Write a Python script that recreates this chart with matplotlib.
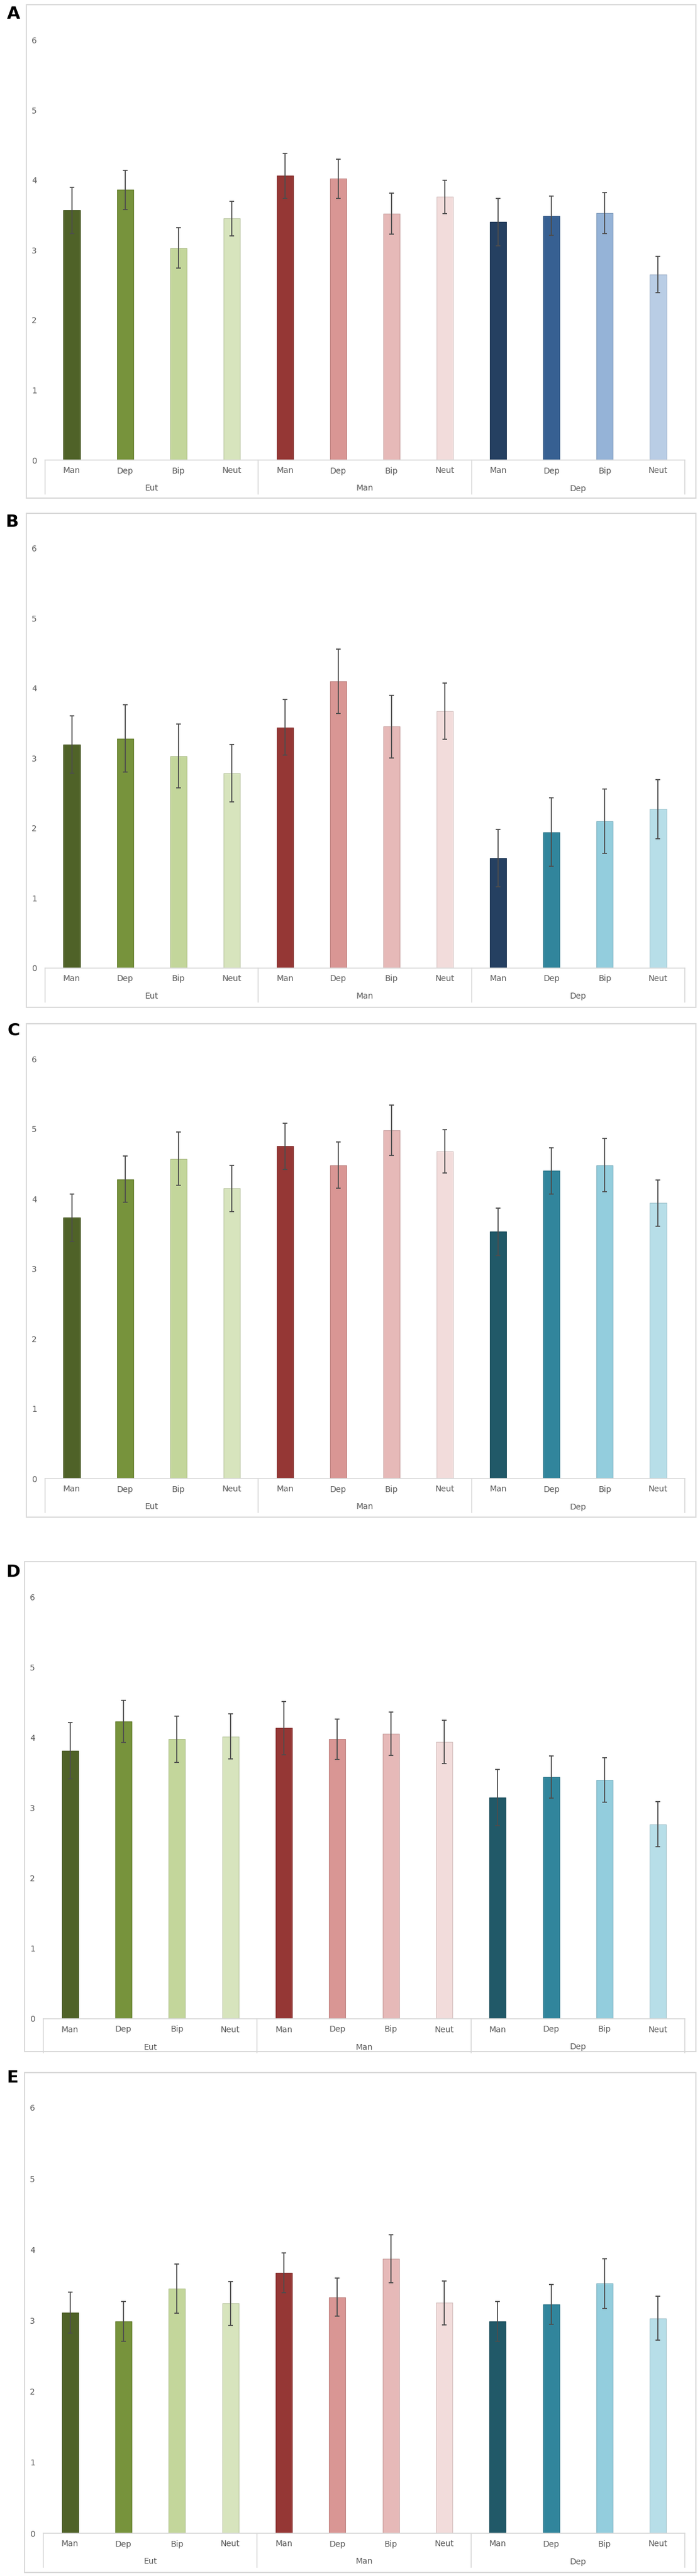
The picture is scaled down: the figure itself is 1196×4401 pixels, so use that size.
"""Five panels of grouped bar charts (A-E) with error bars, Excel-like style"""

import matplotlib
matplotlib.use("Agg")
import matplotlib.pyplot as plt
from matplotlib.patches import Rectangle
from matplotlib.colors import to_rgb
import numpy as np

# categories
groups = ["Eut", "Man", "Dep"]
conditions = ["Man", "Dep", "Bip", "Neut"]
y_ticks = [0, 1, 2, 3, 4, 5, 6]

# values (Eut x4, Man x4, Dep x4)
means_A = [3.57, 3.86, 3.03, 3.45, 4.06, 4.02, 3.52, 3.76, 3.40, 3.49, 3.53, 2.65]
errs_A = [0.33, 0.28, 0.29, 0.25, 0.32, 0.28, 0.29, 0.24, 0.34, 0.28, 0.29, 0.26]

means_B = [3.19, 3.28, 3.03, 2.78, 3.44, 4.10, 3.45, 3.67, 1.57, 1.94, 2.10, 2.27]
errs_B = [0.41, 0.48, 0.46, 0.41, 0.40, 0.46, 0.45, 0.40, 0.41, 0.49, 0.46, 0.42]

means_C = [3.73, 4.28, 4.57, 4.15, 4.75, 4.48, 4.98, 4.68, 3.53, 4.40, 4.48, 3.94]
errs_C = [0.34, 0.33, 0.38, 0.33, 0.33, 0.33, 0.36, 0.31, 0.34, 0.33, 0.38, 0.33]

means_D = [3.82, 4.23, 3.98, 4.02, 4.14, 3.98, 4.06, 3.94, 3.15, 3.44, 3.40, 2.77]
errs_D = [0.40, 0.30, 0.33, 0.32, 0.38, 0.29, 0.31, 0.31, 0.40, 0.30, 0.32, 0.32]

means_E = [3.11, 2.99, 3.45, 3.24, 3.67, 3.33, 3.87, 3.25, 2.99, 3.23, 3.52, 3.03]
errs_E = [0.29, 0.28, 0.35, 0.31, 0.28, 0.27, 0.34, 0.31, 0.28, 0.28, 0.35, 0.31]

# couleurs
eut_cols = ["#4F6228", "#77933C", "#C3D69B", "#D7E4BD"]
man_cols = ["#953735", "#D99694", "#E6B9B8", "#F2DCDB"]
dep_blue = ["#254061", "#376092", "#95B3D7", "#B9CDE5"]
dep_teal = ["#254061", "#31859C", "#93CDDD", "#B7DEE8"]
dep_teal2 = ["#215968", "#31859C", "#93CDDD", "#B7DEE8"]

W, H = 1196, 4401
GRAY = "#595959"
LINE = "#D9D9D9"


def fx(px):
    return px / W


def fy(py):
    return 1 - py / H


def darker(c, f=0.88):
    r, g, b = to_rgb(c)
    return (r * f, g * f, b * f)


# label, means, errs, dep colours, frame_left, frame_top, y6, y0, frame_bottom, box_left, label xy
panels = [
    ("A", means_A, errs_A, dep_blue, 45, 8, 68.5, 786, 851, 77, (23, 24)),
    ("B", means_B, errs_B, dep_teal, 45, 877, 936.6, 1653.6, 1721, 77, (20, 892)),
    ("C", means_C, errs_C, dep_teal2, 45, 1749, 1809, 2526, 2592, 77, (23, 1761)),
    ("D", means_D, errs_D, dep_teal2, 42, 2668, 2729, 3449, 3505, 74, (22, 2686)),
    ("E", means_E, errs_E, dep_teal2, 42, 3541, 3601, 4328, 4395, 74, (21, 3550)),
]

fig = plt.figure(figsize=(W / 100, H / 100), dpi=100)

for lab, means, errs, dep_cols, fl, ft, y6, y0, fb, bl, lxy in panels:
    box_right = 1170
    frame_right = 1189
    h_px = y0 - y6

    # cadre du panneau
    fig.add_artist(Rectangle((fx(fl), fy(fb)), fx(frame_right - fl), (fb - ft) / H,
                             transform=fig.transFigure, fill=False,
                             edgecolor=LINE, linewidth=1.5))
    fig.text(fx(lxy[0]), fy(lxy[1]), lab, ha="center", va="center",
             fontsize=21, fontweight="heavy", color="black")

    ax = fig.add_axes([fx(bl), fy(y0), fx(box_right - bl), h_px / H])
    cols = eut_cols + man_cols + dep_cols
    x = np.arange(len(means))
    ax.bar(x, means, width=0.31, color=cols,
           edgecolor=[darker(c) for c in cols], linewidth=0.8,
           yerr=errs,
           error_kw=dict(ecolor="#4D4D4D", elinewidth=1.3, capsize=3, capthick=1.3))
    ax.set_xlim(-0.5, 11.5)
    ax.set_ylim(0, 6)
    for s in ax.spines.values():
        s.set_visible(False)
    ax.set_xticks([])
    ax.set_yticks(y_ticks)
    ax.tick_params(axis="y", length=0, pad=10, labelsize=10, labelcolor=GRAY)
    ax.patch.set_alpha(0)

    # axe des catégories à deux niveaux
    trans = ax.get_xaxis_transform()
    ax.plot([-0.5, 11.5], [0, 0], color=LINE, lw=1.2, transform=trans, clip_on=False)
    for xv in [-0.5, 3.5, 7.5, 11.5]:
        ax.plot([xv, xv], [0, -58 / h_px], color=LINE, lw=1.2,
                transform=trans, clip_on=False)
    for i in range(len(means)):
        ax.text(i, -18.5 / h_px, conditions[i % 4], ha="center", va="center",
                fontsize=10, color=GRAY, transform=trans)
    for g, name in enumerate(groups):
        ax.text(4 * g + 1.5, -48.5 / h_px, name, ha="center", va="center",
                fontsize=10, color=GRAY, transform=trans)

fig.savefig("out.png", dpi=100)
